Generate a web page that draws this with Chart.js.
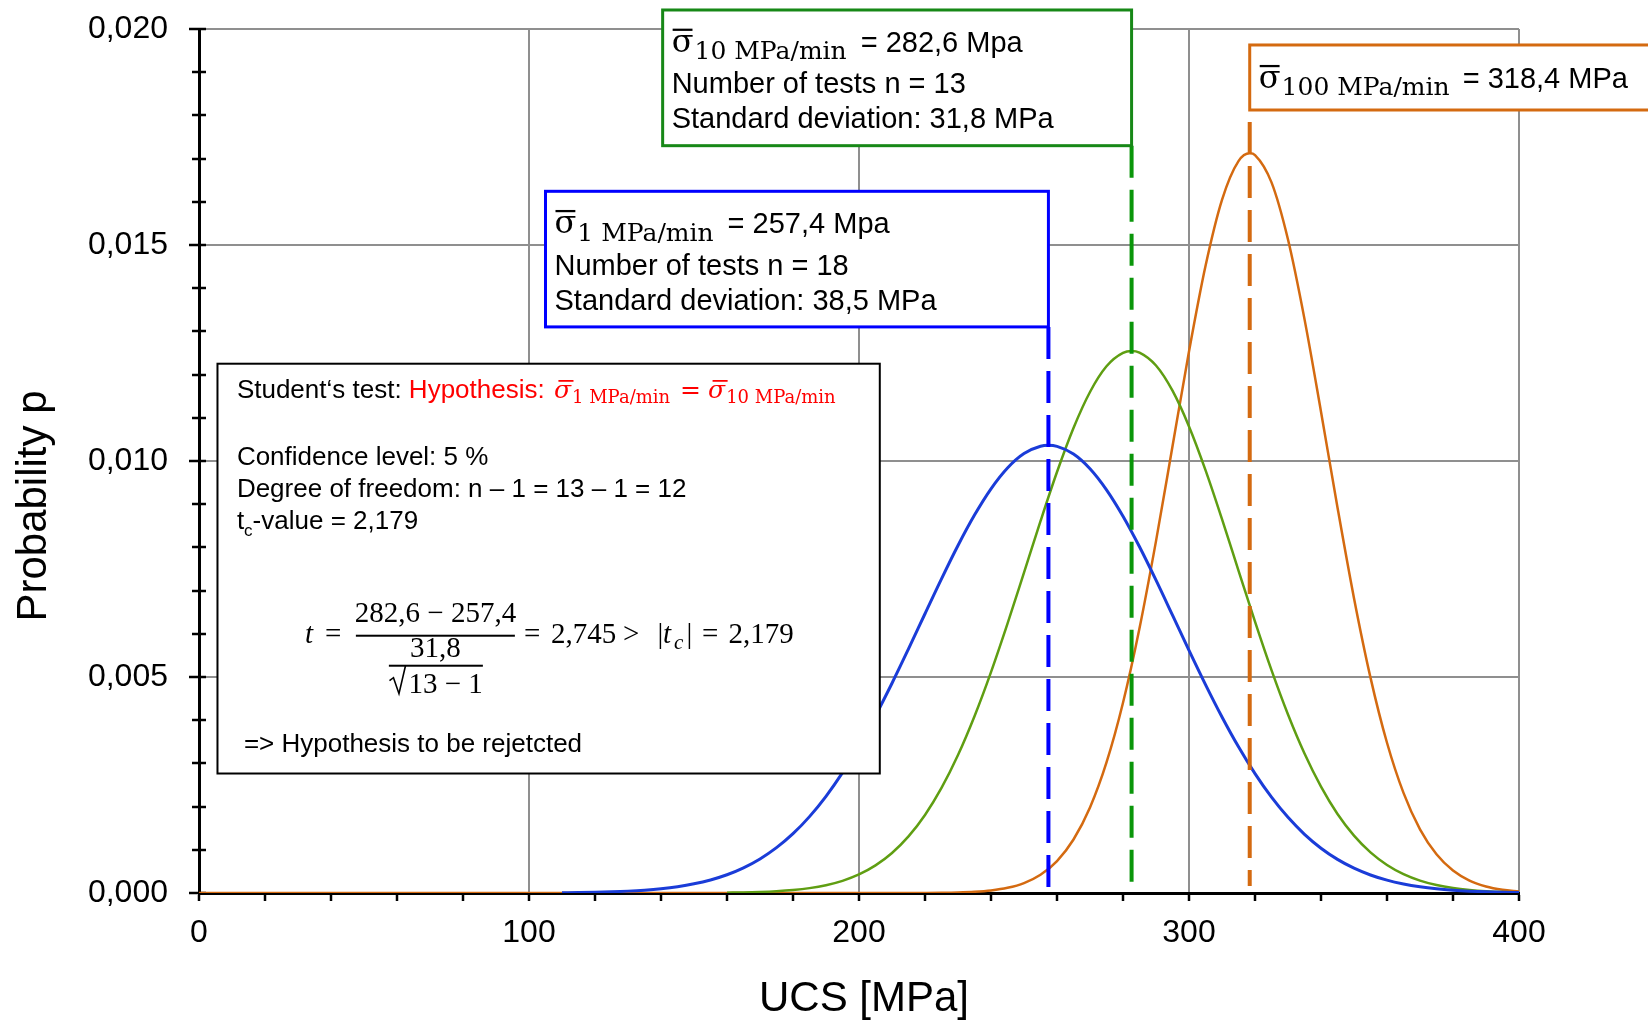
<!DOCTYPE html>
<html>
<head>
<meta charset="utf-8">
<script src="https://cdn.jsdelivr.net/npm/chart.js@4"></script>
<style>
html, body { margin: 0; padding: 0; background: #fff; }
canvas { display: block; }
</style>
</head>
<body>
<canvas id="myChart" width="1648" height="1021"></canvas>
<script>
// UCS [MPa] / probability (1, 10 and 100 MPa/min)
const ucs1 = [110, 115, 120, 125, 130, 135, 140, 145, 150, 155, 160, 165, 170, 175, 180, 185, 190, 195, 200, 205,
	210, 215, 220, 225, 230, 235, 240, 245, 250, 255, 257.4, 260, 265, 270, 275, 280, 285, 290, 295, 300,
	305, 310, 315, 320, 325, 330, 335, 340, 345, 350, 355, 360, 365, 370, 375, 380, 385, 390, 395, 400];
const p1 = [0.0000068, 0.0000111, 0.0000178, 0.0000280, 0.0000434, 0.0000662, 0.0000991, 0.000146, 0.000212, 0.000302,
	0.000422, 0.000582, 0.000788, 0.001049, 0.001373, 0.001768, 0.002238, 0.002786, 0.003410, 0.004104,
	0.004856, 0.005650, 0.006464, 0.007272, 0.008044, 0.008748, 0.009356, 0.009838, 0.010172, 0.010342, 0.010362,
	0.010338, 0.010162, 0.009822, 0.009334, 0.008722, 0.008014, 0.007241, 0.006432, 0.005618,
	0.004825, 0.004075, 0.003384, 0.002763, 0.002218, 0.001751, 0.001359, 0.001037, 0.000778, 0.000574,
	0.000417, 0.000297, 0.000209, 0.000144, 0.0000976, 0.0000651, 0.0000427, 0.0000275, 0.0000174, 0.0000109];

const ucs10 = [160, 165, 170, 175, 180, 185, 190, 195, 200, 205, 210, 215, 220, 225, 230, 235, 240, 245, 250, 255,
	260, 265, 270, 275, 280, 282.6, 285, 290, 295, 300, 305, 310, 315, 320, 325, 330, 335, 340, 345, 350,
	355, 360, 365, 370, 375, 380, 385, 390, 395, 400];
const p10 = [0.0000074, 0.0000134, 0.0000237, 0.0000409, 0.0000689, 0.000113, 0.000181, 0.000282, 0.000430, 0.000639,
	0.000926, 0.001310, 0.001807, 0.002432, 0.003194, 0.004092, 0.005114, 0.006236, 0.007418, 0.008608,
	0.009745, 0.010764, 0.011598, 0.012192, 0.012503, 0.012545, 0.012509, 0.012210, 0.011627, 0.010801,
	0.009789, 0.008655, 0.007465, 0.006282, 0.005158, 0.004131, 0.003228, 0.002461, 0.001829, 0.001328,
	0.000940, 0.000649, 0.000437, 0.000287, 0.000184, 0.000115, 0.0000704, 0.0000419, 0.0000243, 0.0000138];

const ucs100 = [0, 100, 200, 205, 210, 215, 220, 225, 230, 235, 240, 245, 250, 255, 260, 265, 270, 275, 280, 285,
	290, 295, 300, 305, 310, 315, 318.4, 320, 325, 330, 335, 340, 345, 350, 355, 360, 365, 370, 375, 380,
	385, 390, 395, 400];
const p100 = [0, 0, 0, 0.0000001, 0.0000003, 0.0000009, 0.0000023, 0.0000055, 0.0000128, 0.0000282,
	0.0000596, 0.000120, 0.000230, 0.000423, 0.000740, 0.001239, 0.001979, 0.003021, 0.004403, 0.006128,
	0.008145, 0.010340, 0.012535, 0.014512, 0.016044, 0.016941, 0.017122, 0.017082, 0.016449, 0.015126,
	0.013284, 0.011142, 0.008924, 0.006825, 0.004986, 0.003478, 0.002317, 0.001474, 0.000896, 0.000520,
	0.000288, 0.000152, 0.0000770, 0.0000372];

// mean values and where their dashed markers stop (bottom of the label boxes)
const means = [257.4, 282.6, 318.4];
const markerTop = [0.013104, 0.017299, 0.018125];
const markerBottom = [0, 0, 0.00016];

const xTicks = [0, 20, 40, 60, 80, 100, 120, 140, 160, 180, 200, 220, 240, 260, 280, 300, 320, 340, 360, 380, 400];
const yTicks = [0, 0.001, 0.002, 0.003, 0.004, 0.005, 0.006, 0.007, 0.008, 0.009, 0.010,
	0.011, 0.012, 0.013, 0.014, 0.015, 0.016, 0.017, 0.018, 0.019, 0.020];

const SANS = "'Liberation Sans', Arial, sans-serif";
const SERIF = "'DejaVu Serif', serif";
const MATH = "'Liberation Serif', 'Times New Roman', serif";

Chart.defaults.font.family = SANS;
Chart.defaults.color = "#000";

function pts(xs, ys) {
	return xs.map((x, i) => ({ x: x, y: ys[i] }));
}

function isMajorY(v) {
	return Math.round(v * 1000) % 5 === 0;
}

function txt(ctx, s, x, y, font, color, align) {
	ctx.font = font;
	ctx.fillStyle = color || "#000";
	ctx.textAlign = align || "left";
	ctx.fillText(s, x, y);
	ctx.textAlign = "left";
	return x + ctx.measureText(s).width;
}

// sigma with an overline and a subscript, returns the x where it ends
function sigma(ctx, x, y, size, sub, subSize, color, italic) {
	ctx.font = (italic ? "italic " : "") + size + "px " + SERIF;
	ctx.fillStyle = color;
	const w = ctx.measureText("σ").width;
	ctx.fillText("σ", x, y);
	const shift = italic ? size * 0.14 : 0;
	ctx.fillRect(x + shift + 1, y - size * 0.72, w - 2, Math.max(1.5, size * 0.07));
	ctx.font = subSize + "px " + SERIF;
	ctx.fillText(sub, x + w + 1, y + subSize * 0.3);
	return x + w + 1 + ctx.measureText(sub).width;
}

function statBox(sub, mean, n, sd) {
	return function (ctx, l, t) {
		const f = "29px " + SANS;
		const x = l + 9;
		const e = sigma(ctx, x, t + 41.7, 32, sub, 25, "#000", false);
		txt(ctx, "= " + mean, e + 14, t + 41.7, f);
		txt(ctx, "Number of tests n = " + n, x, t + 83.3, f);
		txt(ctx, "Standard deviation: " + sd + " MPa", x, t + 118.3, f);
	};
}

function testBox(ctx, l, t) {
	const f = "26px " + SANS;
	const red = "#ff0000";
	let e = txt(ctx, "Student‘s test: ", l + 19.4, t + 34.3, f);
	e = txt(ctx, "Hypothesis: ", e, t + 34.3, f, red);
	e = sigma(ctx, e + 2, t + 34.3, 25, "1 MPa/min", 18, red, true);
	e = txt(ctx, "=", e + 10, t + 34.3, "25px " + SERIF, red);
	sigma(ctx, e + 7, t + 34.3, 25, "10 MPa/min", 18, red, true);

	txt(ctx, "Confidence level: 5 %", l + 19.4, t + 101.3, f);
	txt(ctx, "Degree of freedom: n – 1 = 13 – 1 = 12", l + 19.4, t + 133, f);
	e = txt(ctx, "t", l + 19.4, t + 165.3, f);
	e = txt(ctx, "c", e, t + 172, "17px " + SANS);
	txt(ctx, "-value = 2,179", e, t + 165.3, f);

	const fm = "29px " + MATH, fi = "italic 29px " + MATH;
	const base = t + 279.3;
	txt(ctx, "t", l + 87.4, base, fi);
	txt(ctx, "=", l + 107.4, base, fm);
	txt(ctx, "282,6 − 257,4", l + 218, t + 258, fm, "#000", "center");
	ctx.fillStyle = "#000";
	ctx.fillRect(l + 138.4, t + 271, 159, 2);
	txt(ctx, "31,8", l + 218, t + 293.3, fm, "#000", "center");
	ctx.fillRect(l + 171.4, t + 301, 94, 2);
	ctx.beginPath();
	ctx.moveTo(l + 172, t + 317);
	ctx.lineTo(l + 176, t + 314);
	ctx.lineTo(l + 181.5, t + 330);
	ctx.lineTo(l + 188, t + 302);
	ctx.strokeStyle = "#000";
	ctx.lineWidth = 1.6;
	ctx.stroke();
	txt(ctx, "13 − 1", l + 191, t + 329.3, fm);
	txt(ctx, "=", l + 306.4, base, fm);
	txt(ctx, "2,745", l + 333.4, base, fm);
	txt(ctx, ">", l + 405.4, base, fm);
	txt(ctx, "|", l + 439.9, base, fm);
	txt(ctx, "t", l + 445.4, base, fi);
	txt(ctx, "c", l + 456.4, base + 6, "italic 21px " + MATH);
	txt(ctx, "|", l + 469, base, fm);
	txt(ctx, "=", l + 484.4, base, fm);
	txt(ctx, "2,179", l + 511, base, fm);

	txt(ctx, "=> Hypothesis to be rejetcted", l + 26.4, t + 388, f);
}

function orangeBox(ctx, l, t) {
	const e = sigma(ctx, l + 9, t + 43, 32, "100 MPa/min", 25, "#000", false);
	txt(ctx, "= 318,4 MPa", e + 13, t + 43, "29px " + SANS);
}

// label boxes in data units (x in MPa, y in probability)
const notes = [
	{ x0: 5.6, x1: 206.3, y0: 0.002766, y1: 0.012252, color: "#000000", lw: 2, draw: testBox },
	{ x0: 105, x1: means[0], y0: markerTop[0], y1: 0.016243, color: "#0000ff", lw: 3, draw: statBox("1 MPa/min", "257,4 Mpa", 18, "38,5") },
	{ x0: 140.5, x1: means[1], y0: markerTop[1], y1: 0.020440, color: "#178817", lw: 3, draw: statBox("10 MPa/min", "282,6 Mpa", 13, "31,8") },
	{ x0: means[2], x1: 440, y0: markerTop[2], y1: 0.019630, color: "#d46a10", lw: 3, draw: orangeBox }
];

const notesPlugin = {
	id: "notes",
	beforeDatasetsDraw(chart) {
		const { ctx, chartArea, scales: { y } } = chart;
		ctx.save();
		ctx.strokeStyle = "#000";
		ctx.lineWidth = 2.5;
		y.ticks.forEach(t => {
			const py = Math.round(y.getPixelForValue(t.value));
			ctx.beginPath();
			ctx.moveTo(chartArea.left - (isMajorY(t.value) ? 10 : 7), py);
			ctx.lineTo(chartArea.left + 7, py);
			ctx.stroke();
		});
		ctx.restore();
	},
	afterDatasetsDraw(chart) {
		const { ctx, scales: { x, y } } = chart;
		ctx.save();
		ctx.textBaseline = "alphabetic";
		notes.forEach(b => {
			const l = x.getPixelForValue(b.x0), r = x.getPixelForValue(b.x1);
			const t = y.getPixelForValue(b.y1), btm = y.getPixelForValue(b.y0);
			ctx.fillStyle = "#fff";
			ctx.fillRect(l, t, r - l, btm - t);
			ctx.strokeStyle = b.color;
			ctx.lineWidth = b.lw;
			ctx.strokeRect(l, t, r - l, btm - t);
			b.draw(ctx, l, t);
		});
		ctx.restore();
	},
	afterDraw(chart) {
		const { ctx, chartArea } = chart;
		ctx.save();
		ctx.font = "42px " + SANS;
		ctx.fillStyle = "#000";
		ctx.textAlign = "center";
		ctx.textBaseline = "alphabetic";
		ctx.fillText("UCS [MPa]", (chartArea.left + chartArea.right) / 2 + 5, 1011);
		ctx.translate(46, 506);
		ctx.rotate(-Math.PI / 2);
		ctx.fillText("Probability p", 0, 0);
		ctx.restore();
	}
};

function marker(i, color, offset) {
	return {
		data: [{ x: means[i], y: markerTop[i] }, { x: means[i], y: markerBottom[i] }],
		borderColor: color,
		borderWidth: 4,
		borderDash: [32, 12],
		borderDashOffset: offset,
		pointRadius: 0,
		tension: 0
	};
}

function curve(xs, ys, color, width) {
	return {
		data: pts(xs, ys),
		borderColor: color,
		borderWidth: width,
		pointRadius: 0,
		cubicInterpolationMode: "monotone"
	};
}

new Chart("myChart", {
	type: "line",
	data: {
		datasets: [
			marker(0, "#0000ff", 0),
			marker(1, "#0a960a", 0),
			marker(2, "#d46a10", 32),
			curve(ucs1, p1, "#1a3cd8", 3),
			curve(ucs10, p10, "#5f9e12", 2.5),
			curve(ucs100, p100, "#d46a10", 2.5)
		]
	},
	options: {
		responsive: false,
		animation: false,
		devicePixelRatio: 1,
		events: [],
		layout: { padding: { top: 29, right: 129, left: 0, bottom: 0 } },
		plugins: {
			legend: { display: false },
			tooltip: { enabled: false }
		},
		scales: {
			x: {
				type: "linear",
				min: 0,
				max: 400,
				afterBuildTicks: s => { s.ticks = xTicks.map(v => ({ value: v })); },
				afterFit: s => { s.height = 128; },
				ticks: {
					autoSkip: false,
					maxRotation: 0,
					padding: 13,
					font: { size: 32 },
					color: "#000",
					callback: v => (v % 100 === 0 ? String(v) : "")
				},
				grid: {
					color: c => (c.tick && c.tick.value % 100 === 0 && c.tick.value !== 0 ? "#8f8f8f" : "rgba(0,0,0,0)"),
					lineWidth: 2,
					tickColor: "#000",
					tickLength: 8,
					tickWidth: 2.5
				},
				border: { color: "#000", width: 3 }
			},
			y: {
				type: "linear",
				min: 0,
				max: 0.02,
				afterBuildTicks: s => { s.ticks = yTicks.map(v => ({ value: v })); },
				afterFit: s => { s.width = 199; },
				ticks: {
					autoSkip: false,
					padding: 0,
					font: { size: 32 },
					color: "#000",
					callback: v => (isMajorY(v) ? v.toFixed(3).replace(".", ",") : "")
				},
				grid: {
					color: c => (c.tick && isMajorY(c.tick.value) && c.tick.value !== 0 ? "#8f8f8f" : "rgba(0,0,0,0)"),
					lineWidth: 2,
					// tick marks are drawn by the plugin, this only keeps the labels clear of the axis
					drawTicks: true,
					tickLength: 31,
					tickColor: "rgba(0,0,0,0)"
				},
				border: { color: "#000", width: 3 }
			}
		}
	},
	plugins: [notesPlugin]
});
</script>
</body>
</html>
